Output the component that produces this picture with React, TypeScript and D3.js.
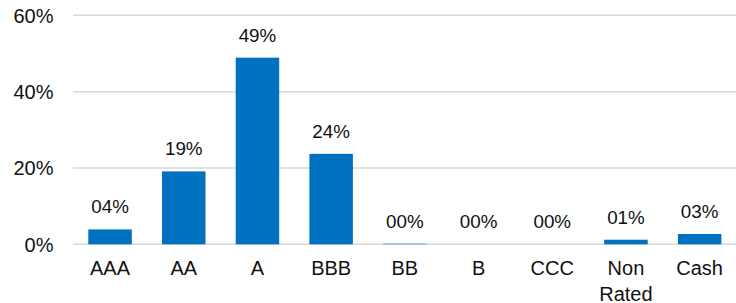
import React from "react";
import * as d3 from "d3";

const categories: string[][] = [["AAA"], ["AA"], ["A"], ["BBB"], ["BB"], ["B"], ["CCC"], ["Non", "Rated"], ["Cash"]];
const values: number[] = [3.9, 19.1, 48.9, 23.7, 0.2, 0, 0, 1.2, 2.7];
const valueLabels: string[] = ["04%", "19%", "49%", "24%", "00%", "00%", "00%", "01%", "03%"];
const yTicks: number[] = [0, 20, 40, 60];

export default function App() {
  const W = 736, H = 303;
  const x = d3.scaleBand<number>().domain(d3.range(categories.length)).range([73.2, 736.5]).paddingInner(0.41).paddingOuter(0.205);
  const y = d3.scaleLinear().domain([0, 60]).range([244.3, 15.3]);
  const font = "'Liberation Sans', Arial, sans-serif";
  return (
    <svg width={W} height={H} style={{ position: "fixed", left: 0, top: 0, background: "#fff" }} fontFamily={font}>
      {yTicks.map((t) => (
        <g key={t}>
          <line x1={73} x2={736} y1={y(t)} y2={y(t)} stroke="#d9d9d9" strokeWidth={1.5} />
          <text x={53.5} y={y(t) + 7.4} textAnchor="end" fontSize={20} fill="#111">{t}%</text>
        </g>
      ))}
      {values.map((v, i) => (
        <rect key={i} x={x(i)} width={x.bandwidth()} y={y(v)} height={y(0) - y(v)} fill={v < 0.5 ? "#5b9bd5" : "#0070c0"} />
      ))}
      {values.map((v, i) => (
        <text key={i} x={(x(i) as number) + x.bandwidth() / 2} y={y(v) - 16} textAnchor="middle" fontSize={18.8} fill="#111">{valueLabels[i]}</text>
      ))}
      {categories.map((c, i) => (
        <text key={i} x={(x(i) as number) + x.bandwidth() / 2} y={275} textAnchor="middle" fontSize={20} fill="#111">
          {c.map((s, j) => (
            <tspan key={j} x={(x(i) as number) + x.bandwidth() / 2} dy={j === 0 ? 0 : 25.5}>{s}</tspan>
          ))}
        </text>
      ))}
    </svg>
  );
}
